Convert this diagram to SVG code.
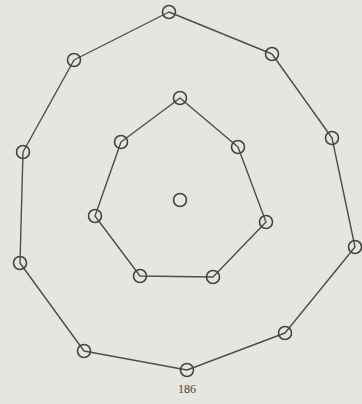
<svg xmlns="http://www.w3.org/2000/svg" width="362" height="404" viewBox="0 0 362 404">
<style>
.edge{fill:none;stroke:#4e4e4a;stroke-width:1.4;stroke-linejoin:round}
.v{fill:none;stroke:#45453f;stroke-width:1.6}
.lbl{font-family:"Liberation Serif",serif;font-size:12px;fill:#444}
</style>
<rect width="362" height="404" fill="#e6e5df"/>
<g id="connectors">
<polygon class="edge" points="169,12 272,54 332,138 355,247 285,333 187,370 84,351 20,263 23,152 74,60"/>
<polygon class="edge" points="180,98 238,147 266,222 213,277 140,276 95,216 121,142"/>
</g>
<g id="outer">
<circle id="o1" class="v" cx="169" cy="12" r="6.5"/>
<circle id="o2" class="v" cx="272" cy="54" r="6.5"/>
<circle id="o3" class="v" cx="332" cy="138" r="6.5"/>
<circle id="o4" class="v" cx="355" cy="247" r="6.5"/>
<circle id="o5" class="v" cx="285" cy="333" r="6.5"/>
<circle id="o6" class="v" cx="187" cy="370" r="6.5"/>
<circle id="o7" class="v" cx="84" cy="351" r="6.5"/>
<circle id="o8" class="v" cx="20" cy="263" r="6.5"/>
<circle id="o9" class="v" cx="23" cy="152" r="6.5"/>
<circle id="o10" class="v" cx="74" cy="60" r="6.5"/>
</g>
<g id="inner">
<circle id="i1" class="v" cx="180" cy="98" r="6.5"/>
<circle id="i2" class="v" cx="238" cy="147" r="6.5"/>
<circle id="i3" class="v" cx="266" cy="222" r="6.5"/>
<circle id="i4" class="v" cx="213" cy="277" r="6.5"/>
<circle id="i5" class="v" cx="140" cy="276" r="6.5"/>
<circle id="i6" class="v" cx="95" cy="216" r="6.5"/>
<circle id="i7" class="v" cx="121" cy="142" r="6.5"/>
</g>
<g id="center">
<circle class="v" cx="180" cy="200" r="6.5"/>
</g>
<text class="lbl" x="187" y="393" text-anchor="middle">186</text>
</svg>
